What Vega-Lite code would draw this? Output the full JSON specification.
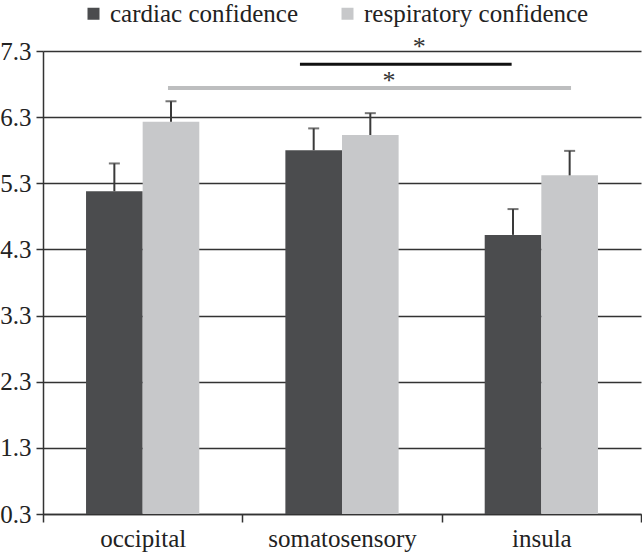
{
  "$schema": "https://vega.github.io/schema/vega-lite/v6.json",
  "autosize": "none",
  "padding": {"left": 43, "top": 51, "right": 1, "bottom": 41},
  "width": 598,
  "height": 463,
  "background": "white",
  "config": {
    "view": {"stroke": null},
    "font": "Liberation Serif",
    "axis": {
      "labelFont": "Liberation Serif",
      "labelColor": "#222222",
      "labelFontSize": 25,
      "domainColor": "#333333",
      "domainWidth": 1.5,
      "tickColor": "#333333",
      "tickWidth": 1.5,
      "gridColor": "#333333",
      "gridWidth": 1.5,
      "title": null
    },
    "legend": {"labelLimit": 400, "labelFont": "Liberation Serif", "labelFontSize": 25},
    "text": {"font": "Liberation Serif"}
  },
  "datasets": {
    "bars": [
      {"region": "occipital", "measure": "cardiac confidence", "value": 5.18, "upper": 5.60},
      {"region": "occipital", "measure": "respiratory confidence", "value": 6.23, "upper": 6.54},
      {"region": "somatosensory", "measure": "cardiac confidence", "value": 5.80, "upper": 6.13},
      {"region": "somatosensory", "measure": "respiratory confidence", "value": 6.03, "upper": 6.36},
      {"region": "insula", "measure": "cardiac confidence", "value": 4.52, "upper": 4.91},
      {"region": "insula", "measure": "respiratory confidence", "value": 5.42, "upper": 5.79}
    ],
    "sig": [
      {"comparison": "cardiac confidence", "start": 1.289, "end": 2.351, "level": 7.10, "starPos": 1.888, "starLevel": 7.24},
      {"comparison": "respiratory confidence", "start": 0.627, "end": 2.649, "level": 6.74, "starPos": 1.736, "starLevel": 6.72}
    ]
  },
  "layer": [
    {
      "data": {"name": "bars"},
      "layer": [
        {
          "mark": {"type": "bar", "clip": true},
          "encoding": {
            "x": {
              "field": "region", "type": "nominal", "sort": ["occipital", "somatosensory", "insula"],
              "scale": {"paddingInner": 0, "paddingOuter": 0},
              "axis": {"labelAngle": 0, "tickBand": "extent", "tickSize": 8, "labelPadding": 4, "grid": false}
            },
            "xOffset": {
              "field": "measure", "type": "nominal",
              "sort": ["cardiac confidence", "respiratory confidence"],
              "scale": {"paddingInner": 0, "paddingOuter": 0.76}
            },
            "y": {
              "field": "value", "type": "quantitative",
              "scale": {"domain": [0.3, 7.3], "nice": false, "zero": false},
              "axis": {"values": [0.3, 1.3, 2.3, 3.3, 4.3, 5.3, 6.3, 7.3], "format": ".1f", "grid": true, "tickSize": 7, "labelPadding": 5}
            },
            "y2": {"datum": 0.3},
            "color": {
              "field": "measure", "type": "nominal",
              "sort": ["cardiac confidence", "respiratory confidence"],
              "scale": {"range": ["#4b4c4e", "#c7c8ca"]},
              "legend": {
                "orient": "none", "legendX": 38, "legendY": -50, "direction": "horizontal",
                "title": null, "symbolType": "square", "symbolSize": 144, "symbolStrokeWidth": 0,
                "labelFont": "Liberation Serif", "labelFontSize": 25, "labelColor": "#222222",
                "columnPadding": 36, "labelOffset": 4, "padding": 0
              }
            }
          }
        },
        {
          "mark": {"type": "rule", "color": "#3a3a3a", "strokeWidth": 2},
          "encoding": {
            "x": {"field": "region", "type": "nominal", "sort": ["occipital", "somatosensory", "insula"]},
            "xOffset": {"field": "measure", "type": "nominal", "sort": ["cardiac confidence", "respiratory confidence"]},
            "y": {"field": "value", "type": "quantitative"},
            "y2": {"field": "upper"}
          }
        },
        {
          "mark": {"type": "tick", "color": "#3a3a3a", "thickness": 2, "size": 11, "orient": "horizontal"},
          "encoding": {
            "x": {"field": "region", "type": "nominal", "sort": ["occipital", "somatosensory", "insula"]},
            "xOffset": {"field": "measure", "type": "nominal", "sort": ["cardiac confidence", "respiratory confidence"]},
            "y": {"field": "upper", "type": "quantitative"}
          }
        }
      ]
    },
    {
      "data": {"name": "sig"},
      "layer": [
        {
          "transform": [{"filter": "datum.comparison === 'cardiac confidence'"}],
          "mark": {"type": "rule", "color": "#111111", "strokeWidth": 3},
          "encoding": {
            "x": {"field": "start", "type": "quantitative", "scale": {"domain": [0, 3], "nice": false, "zero": false}, "axis": null},
            "x2": {"field": "end"},
            "y": {"field": "level", "type": "quantitative"}
          }
        },
        {
          "transform": [{"filter": "datum.comparison === 'respiratory confidence'"}],
          "mark": {"type": "rule", "color": "#bdbebf", "strokeWidth": 4},
          "encoding": {
            "x": {"field": "start", "type": "quantitative", "scale": {"domain": [0, 3], "nice": false, "zero": false}, "axis": null},
            "x2": {"field": "end"},
            "y": {"field": "level", "type": "quantitative"}
          }
        },
        {
          "mark": {"type": "text", "text": "*", "fontSize": 26, "font": "Liberation Serif", "color": "#333333", "baseline": "alphabetic", "align": "center"},
          "encoding": {
            "x": {"field": "starPos", "type": "quantitative", "scale": {"domain": [0, 3], "nice": false, "zero": false}, "axis": null},
            "y": {"field": "starLevel", "type": "quantitative"}
          }
        }
      ]
    }
  ],
  "resolve": {"scale": {"x": "independent", "xOffset": "independent"}, "axis": {"x": "independent"}}
}
